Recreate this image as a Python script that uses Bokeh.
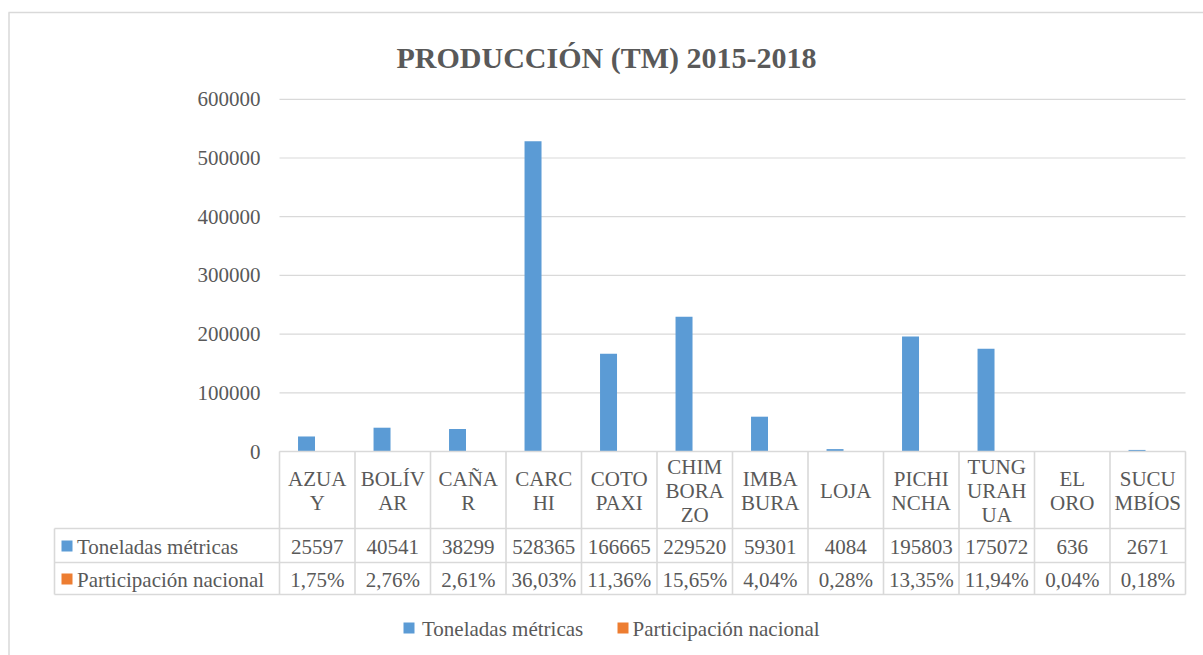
from bokeh.plotting import figure
from bokeh.models import Range1d
from bokeh.core.properties import value
from bokeh.embed import file_html
from bokeh.resources import INLINE

# ---------------- data ----------------
CATEGORIES = ["AZUAY", "BOLÍVAR", "CAÑAR", "CARCHI", "COTOPAXI", "CHIMBORAZO",
              "IMBABURA", "LOJA", "PICHINCHA", "TUNGURAHUA", "EL ORO", "SUCUMBÍOS"]
CAT_LABELS = ["AZUA\nY", "BOLÍV\nAR", "CAÑA\nR", "CARC\nHI", "COTO\nPAXI", "CHIM\nBORA\nZO",
              "IMBA\nBURA", "LOJA", "PICHI\nNCHA", "TUNG\nURAH\nUA", "EL\nORO", "SUCU\nMBÍOS"]
TONELADAS = [25597, 40541, 38299, 528365, 166665, 229520, 59301, 4084, 195803, 175072, 636, 2671]
PARTICIPACION = [1.75, 2.76, 2.61, 36.03, 11.36, 15.65, 4.04, 0.28, 13.35, 11.94, 0.04, 0.18]
Y_TICKS = [0, 100000, 200000, 300000, 400000, 500000, 600000]
SERIES = ["Toneladas métricas", "Participación nacional"]
TITLE = "PRODUCCIÓN (TM) 2015-2018"

# ---------------- styling / layout ----------------
W, H = 1203, 655
COL0 = 279.0          # px of first column's left edge
COLW = 75.5           # px per category column
Y0 = 451.0            # px of value 0
PX_PER_UNIT = 352.2 / 600000.0
BLUE = "#5B9BD5"
ORANGE = "#ED7D31"
TXT = "#595959"
GRID = "#D9D9D9"
FONT = value("Liberation Serif")
FS = "21px"

def cx(px):
    return (px - COL0) / COLW

def cy(px):
    return -px

n = len(CATEGORIES)

p = figure(width=W, height=H, output_backend="svg", toolbar_location=None,
           x_axis_location=None, y_axis_location=None,
           x_range=Range1d(cx(0), cx(W)),
           y_range=Range1d(-(H - Y0) / PX_PER_UNIT, Y0 / PX_PER_UNIT),
           min_border=0, min_border_left=0, min_border_right=0,
           min_border_top=0, min_border_bottom=0)
p.extra_y_ranges = {"px": Range1d(-H, 0)}
p.outline_line_color = None
p.grid.visible = False
p.background_fill_color = "white"
p.border_fill_color = "white"

# outer chart border (top and left visible)
p.segment(x0=[cx(8), cx(8.5)], y0=[cy(12), cy(12)], x1=[cx(W), cx(8.5)], y1=[cy(12), cy(H)],
          y_range_name="px", line_color=GRID, line_width=1.5)

# gridlines at ticks
p.segment(x0=[0] * len(Y_TICKS), x1=[n] * len(Y_TICKS), y0=Y_TICKS, y1=Y_TICKS,
          line_color=GRID, line_width=1.2)

# tick labels
p.text(x=[cx(260)] * len(Y_TICKS), y=Y_TICKS, text=[str(t) for t in Y_TICKS],
       text_font=FONT, text_font_size=FS, text_color=TXT,
       text_align="right", text_baseline="middle")

# bars
xs = list(range(n))
p.vbar(x=[i + 0.5 - 0.142 for i in xs], top=TONELADAS, width=0.225, bottom=0,
       fill_color=BLUE, line_color=None)
p.vbar(x=[i + 0.5 + 0.083 for i in xs], top=[v / 100 for v in PARTICIPACION], width=0.225, bottom=0,
       fill_color=ORANGE, line_color=None)

# title
p.text(x=[cx(606)], y=[cy(57)], text=[TITLE], y_range_name="px",
       text_font=FONT, text_font_size="30px", text_font_style="bold", text_color=TXT,
       text_align="center", text_baseline="alphabetic")

# data table
T_TOP, R1, R2, R3 = 451, 528, 562, 594
LEFT = cx(54)
# horizontal lines
p.segment(x0=[0, LEFT, LEFT, LEFT], x1=[n, n, n, n],
          y0=[cy(T_TOP), cy(R1), cy(R2), cy(R3)], y1=[cy(T_TOP), cy(R1), cy(R2), cy(R3)],
          y_range_name="px", line_color=GRID, line_width=1.6)
# vertical lines
p.segment(x0=list(range(n + 1)), x1=list(range(n + 1)),
          y0=[cy(T_TOP)] * (n + 1), y1=[cy(R3)] * (n + 1),
          y_range_name="px", line_color=GRID, line_width=1.6)
p.segment(x0=[LEFT], x1=[LEFT], y0=[cy(R1)], y1=[cy(R3)],
          y_range_name="px", line_color=GRID, line_width=1.6)

centers = [i + 0.5 for i in xs]
p.text(x=centers, y=[cy((T_TOP + R1) / 2 + 1)] * n, text=CAT_LABELS, y_range_name="px",
       text_font=FONT, text_font_size=FS, text_color=TXT, text_line_height=1.0,
       text_align="center", text_baseline="middle")
p.text(x=centers, y=[cy((R1 + R2) / 2 + 1)] * n, text=[str(v) for v in TONELADAS], y_range_name="px",
       text_font=FONT, text_font_size=FS, text_color=TXT,
       text_align="center", text_baseline="middle")
p.text(x=centers, y=[cy((R2 + R3) / 2 + 1)] * n,
       text=[f"{v:.2f}".replace(".", ",") + "%" for v in PARTICIPACION], y_range_name="px",
       text_font=FONT, text_font_size=FS, text_color=TXT,
       text_align="center", text_baseline="middle")

# row headers with keys
p.scatter(x=[cx(66.5), cx(66.5)], y=[cy(545.5), cy(578.5)], marker="square", size=11,
          fill_color=[BLUE, ORANGE], line_color=None, y_range_name="px")
p.text(x=[cx(76.5), cx(76.5)], y=[cy((R1 + R2) / 2 + 1), cy((R2 + R3) / 2 + 1)], text=SERIES,
       y_range_name="px", text_font=FONT, text_font_size=FS, text_color=TXT,
       text_align="left", text_baseline="middle")

# legend
p.scatter(x=[cx(408.5), cx(622.5)], y=[cy(627.5), cy(627.5)], marker="square", size=11,
          fill_color=[BLUE, ORANGE], line_color=None, y_range_name="px")
p.text(x=[cx(421.5), cx(632)], y=[cy(628)] * 2, text=SERIES,
       y_range_name="px", text_font=FONT, text_font_size=FS, text_color=TXT,
       text_align="left", text_baseline="middle")

open("out.html", "w").write(file_html(p, INLINE))
